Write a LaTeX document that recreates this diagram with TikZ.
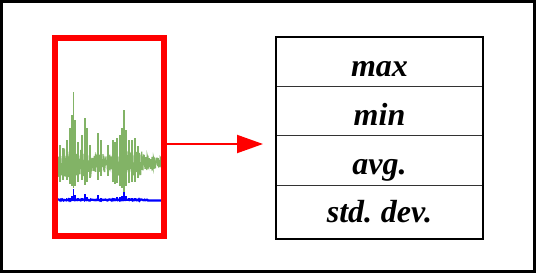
\documentclass[tikz,border=0pt]{standalone}
\usepackage{fontspec}
\setmainfont{Liberation Serif}
\usepackage{xcolor}
\usepackage{tikz}
\usetikzlibrary{positioning,arrows.meta}
\definecolor{wavegreen}{HTML}{82B366}

\begin{document}
\begin{tikzpicture}[x=1pt, y=-1pt, thick,
 sigbox/.style={draw=red, line width=6pt, minimum width=109pt, minimum height=198pt, inner sep=0pt, outer sep=0pt},
 statrow/.style={draw=black!80, line width=0.8pt, minimum width=207pt, minimum height=49.2pt, inner sep=0pt, outer sep=0pt, text height=28.8pt, text depth=0pt, font=\fontsize{32}{38}\selectfont\bfseries\itshape},
 sigarrow/.style={draw=red, line width=2pt, -{Triangle[length=26pt, width=18pt]}},
 declare function={env(\x)=14-5*and(\x>88,\x<112)-(\x>138)*min(\x-138,12)*0.65;}]
 % Canvas and outer frame
 \useasboundingbox (0,0) rectangle (539,274);
 \draw[line width=3pt] (1.5,1.5) rectangle (534,271.5);
 % Signal: green waveform (fixed seed)
 \pgfmathsetseed{7}
 \draw[wavegreen, line width=1.2pt] plot[domain=58:162, samples=400] (\x, {163+env(\x)*rand});
 \foreach \sx/\up/\dn in {60/145/182, 63/148/180, 66.7/140/180, 70/128/184, 72/115/186, 73.3/92/188, 75/120/186, 78/142/182, 82/135/180, 85/118/185, 87/128/182, 90/145/178, 98/133/180, 101/140/176, 108/145/176, 113/140/182, 115/142/184, 117/138/183, 120/135/186, 122/128/188, 124/110/192, 126/130/186, 129/140/183, 132/140/182, 135/138/182, 138/146/178}
  \draw[wavegreen, line width=1.6pt] (\sx,\up) -- (\sx,\dn);
 % Blue envelope line below it
 \draw[blue, line width=2.2pt] plot[domain=58:162, samples=150] (\x, {200.5-1.2*rnd*(\x<148)});
 \foreach \sx/\bl in {60/199, 66.7/198, 70/198, 72/196, 73.3/189, 75/195, 78/198, 82/198, 85/194, 87/197, 98/195, 101/198, 113/198, 117/197, 120/197, 122/196, 124/192, 126/196, 129/198, 132/198, 135/198}
  \draw[blue, line width=1.4pt] (\sx,200.5) -- (\sx,\bl);
 \node[sigbox] (sig) at (109.5,137) {};
 % Statistics table, rows stacked with 'below='
 \node[statrow] (maxrow) at (379.5,61.9) {max};
 \node[statrow, below=0pt of maxrow] (minrow) {min};
 \node[statrow, below=0pt of minrow] (avgrow) {avg.};
 \node[statrow, below=0pt of avgrow, minimum height=53.7pt, text depth=7.7pt] (sdrow) {std.\hspace{-2pt} dev.};
 \draw[line width=2pt] (maxrow.north west) rectangle (sdrow.south east);
 % Arrow from signal to table
 \coordinate (tip) at (263,144);
 \draw[sigarrow] (sig.east |- tip) -- (tip);
\end{tikzpicture}
\end{document}
